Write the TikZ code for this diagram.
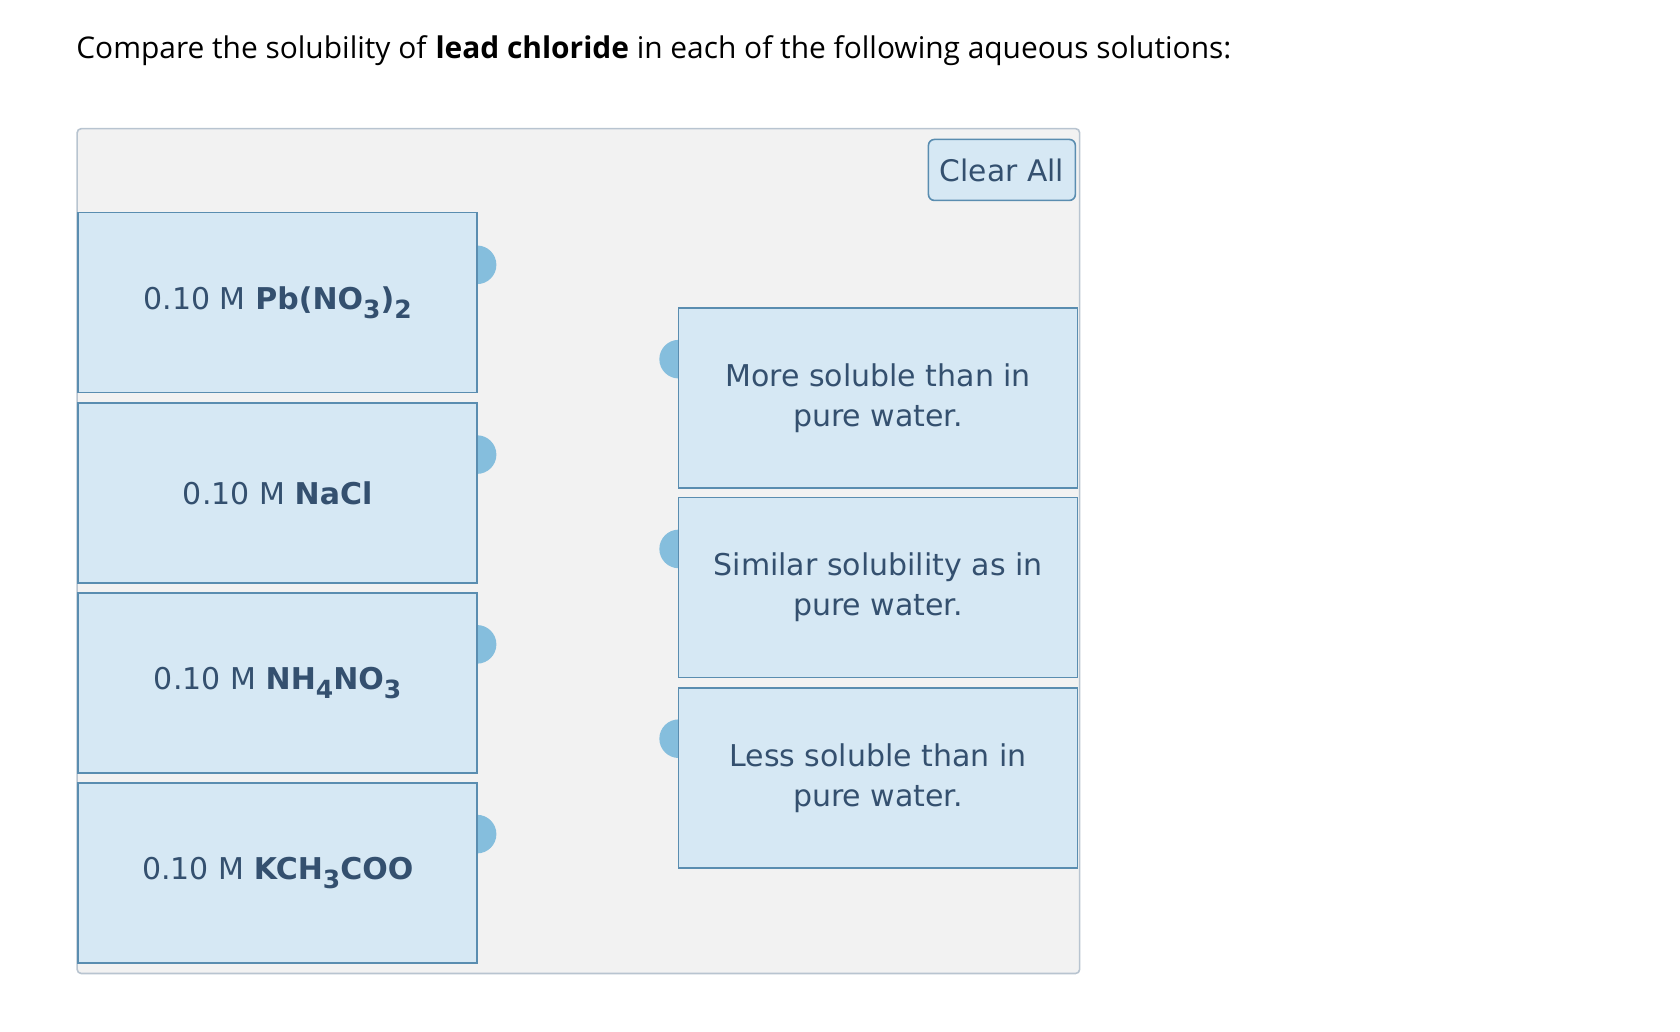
\documentclass[tikz,border=0pt]{standalone}
\usepackage{fontspec}
\setmainfont{DejaVu Sans}
\newfontfamily\titlefont{Open Sans}
\definecolor{boxfill}{HTML}{D6E8F4}
\definecolor{boxline}{HTML}{5A8DB0}
\definecolor{tabc}{HTML}{85BEDD}
\definecolor{txt}{HTML}{34506F}
\definecolor{panel}{HTML}{F2F2F2}
\definecolor{panelline}{HTML}{B8C4D0}
\newcommand{\sbs}[1]{\raisebox{-0.3em}{\fontsize{25}{25}\selectfont #1}}
\begin{document}
\begin{tikzpicture}[x=1.072pt,y=-1.072pt,
  card/.style={draw=boxline,fill=boxfill,line width=1.6pt,minimum width=398.8pt,minimum height=180pt,inner sep=0pt,font=\fontsize{30}{40}\selectfont,text=txt,align=center},
  tab/.style={fill=tabc}]
\useasboundingbox (0,0) rectangle (1567,962);
\node[anchor=base west,font=\titlefont\fontsize{29.9}{34}\selectfont,inner sep=0pt] (title) at (71,55) {Compare the solubility of \textbf{lead chloride} in each of the following aqueous solutions:};
\draw[panelline,fill=panel,line width=1.6pt,rounded corners=4pt] (72,120) rectangle (1007,908);
\node[draw=boxline,fill=boxfill,line width=1.6pt,rounded corners=6pt,minimum width=146.9pt,minimum height=61pt,text=txt,font=\fontsize{29.7}{34}\selectfont] (clear) at (934.5,158.5) {Clear All};
\foreach \y in {283,460,637,814}{\fill[tabc] (445,\y-18) arc(90:-90:18) -- cycle;}
\foreach \y in {371,548,725}{\fill[tabc] (633,\y-18) arc(90:270:18) -- cycle;}
\node[card] (a) at (259,282) {0.10 M \textbf{Pb(NO\sbs{3})\sbs{2}}};
\node[card] (b) at (259,460) {0.10 M \textbf{NaCl}};
\node[card] (c) at (259,637) {0.10 M \textbf{NH\sbs{4}NO\sbs{3}}};
\node[card] (d) at (259,814.5) {0.10 M \textbf{KCH\sbs{3}COO}};
\node[card] (m) at (819,371) {More soluble than in\\pure water.};
\node[card] (s) at (819,548) {Similar solubility as in\\pure water.};
\node[card] (l) at (819,725.5) {Less soluble than in\\pure water.};
\end{tikzpicture}
\end{document}
